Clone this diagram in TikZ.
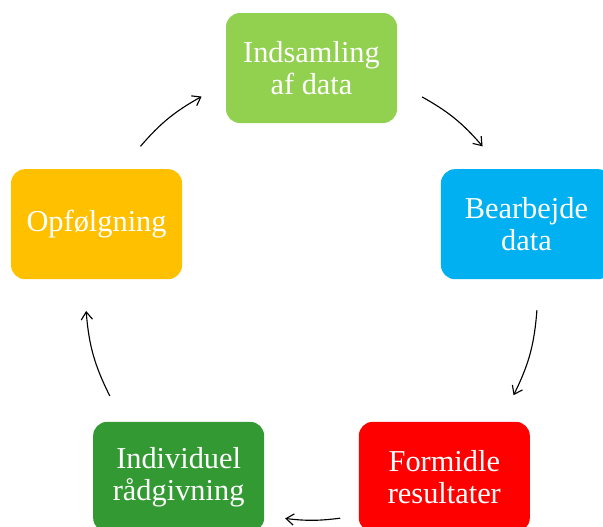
\documentclass[tikz,border=0pt]{standalone}
\usepackage{fontspec}
\setmainfont{Liberation Serif}
\usetikzlibrary{arrows.meta}
\definecolor{indsamlingfarve}{HTML}{92D050}
\definecolor{bearbejdefarve}{HTML}{00B0F0}
\definecolor{formidlefarve}{HTML}{FF0000}
\definecolor{raadgivningfarve}{HTML}{339933}
\definecolor{opfoelgningfarve}{HTML}{FFC000}

\begin{document}
\begin{tikzpicture}[
	boks/.style={rectangle, rounded corners=0.35cm, minimum width=4.275cm, minimum height=2.75cm, text=white, align=center, font=\fontsize{21.6}{22.8}\selectfont},
	pil/.style={line width=0.8pt, -{Straight Barb[length=5.5pt,width=8pt]}}]
	\useasboundingbox (-7.7875,-5.8) rectangle (7.2875,7.35);
	
	\node[boks, fill=indsamlingfarve] (indsamling) at (90:5.65) {Indsamling\\af data};
	\node[boks, fill=bearbejdefarve] (bearbejde) at (18:5.65) {Bearbejde\\data};
	\node[boks, fill=formidlefarve] (formidle) at (-54:5.65) {Formidle\\resultater};
	\node[boks, fill=raadgivningfarve] (raadgivning) at (-126:5.65) {Individuel\\rådgivning};
	\node[boks, fill=opfoelgningfarve] (opfoelgning) at (162:5.65) {Opfølgning};
	
	\coordinate (p1a) at (60.7:5.65);
	\coordinate (p1b) at (40.8:5.65);
	\coordinate (p2a) at (-4.1:5.65);
	\coordinate (p2b) at (-26.6:5.65);
	\coordinate (p3a) at (-82.7:5.65);
	\coordinate (p3b) at (-96.7:5.65);
	\coordinate (p4a) at (-153.2:5.65);
	\coordinate (p4b) at (-175.7:5.65);
	\coordinate (p5a) at (139.2:5.65);
	\coordinate (p5b) at (119.1:5.65);
	
	\draw[pil] (p1a) to[bend left=10] (p1b);
	\draw[pil] (p2a) to[bend left=11] (p2b);
	\draw[pil] (p3a) to[bend left=7] (p3b);
	\draw[pil] (p4a) to[bend left=11] (p4b);
	\draw[pil] (p5a) to[bend left=10] (p5b);
	
\end{tikzpicture}
\end{document}
